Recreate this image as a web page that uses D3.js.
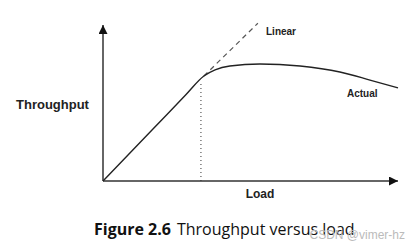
<!DOCTYPE html>
<html>
<head>
<meta charset="utf-8">
<script src="https://cdn.jsdelivr.net/npm/d3@7"></script>
<style>
  body { margin: 0; background: #fff; }
  text { font-family: "Liberation Sans", Arial, sans-serif; }
</style>
</head>
<body>
<div id="chart"></div>
<script>
// chart values (load, throughput) in arbitrary units 0..100
var actualLoad       = [0, 17.1, 28, 34.2, 38, 43, 53.2, 66.8, 80.3, 90.5, 100];
var actualThroughput = [0, 32.6, 53.4, 65.2, 69, 71.4, 72.7, 71.4, 67.7, 62.7, 57.8];
var linearLoad       = [34.2, 52.5];
var linearThroughput = [65.2, 98];
var kneeLoad = 33.2;
var kneeThroughput = 62;

var w = 419, h = 252;
var svg = d3.select("#chart").append("svg")
	.attr("width", w)
	.attr("height", h);

var x = d3.scaleLinear().domain([0, 100]).range([103, 398]);
var y = d3.scaleLinear().domain([0, 100]).range([181, 20]);

// arrow marker
var defs = svg.append("defs");
defs.append("marker")
	.attr("id", "arrow")
	.attr("viewBox", "0 0 10 10")
	.attr("refX", 10).attr("refY", 5)
	.attr("markerWidth", 9).attr("markerHeight", 9)
	.attr("markerUnits", "userSpaceOnUse")
	.attr("orient", "auto")
.append("path")
	.attr("d", "M0,0L10,5L0,10Z")
	.attr("fill", "#111");

// axes
svg.append("line")
	.attr("x1", x(0)).attr("y1", y(0))
	.attr("x2", x(0)).attr("y2", 25)
	.attr("stroke", "#333").attr("stroke-width", 1.5)
	.attr("marker-end", "url(#arrow)");

svg.append("line")
	.attr("x1", x(0)).attr("y1", y(0))
	.attr("x2", 398).attr("y2", y(0))
	.attr("stroke", "#333").attr("stroke-width", 1.5)
	.attr("marker-end", "url(#arrow)");

var line = d3.line()
	.x(function(d) { return x(d[0]); })
	.y(function(d) { return y(d[1]); });

// linear (dashed)
svg.append("path")
	.datum(d3.zip(linearLoad, linearThroughput))
	.attr("fill", "none")
	.attr("stroke", "#555")
	.attr("stroke-width", 1.2)
	.attr("stroke-dasharray", "5,4")
	.attr("d", line);

// actual curve
svg.append("path")
	.datum(d3.zip(actualLoad, actualThroughput))
	.attr("fill", "none")
	.attr("stroke", "#222")
	.attr("stroke-width", 1.4)
	.attr("d", line.curve(d3.curveMonotoneX));

// dotted knee marker
svg.append("line")
	.attr("x1", x(kneeLoad)).attr("y1", y(0))
	.attr("x2", x(kneeLoad)).attr("y2", y(kneeThroughput))
	.attr("stroke", "#333")
	.attr("stroke-width", 1)
	.attr("stroke-dasharray", "1,3");

// labels
svg.append("text")
	.attr("x", 16).attr("y", 109)
	.attr("font-size", "13px").attr("font-weight", "bold")
	.attr("fill", "#222")
	.text("Throughput");

svg.append("text")
	.attr("x", 260).attr("y", 198)
	.attr("text-anchor", "middle")
	.attr("font-size", "12px").attr("font-weight", "bold")
	.attr("fill", "#222")
	.text("Load");

svg.append("text")
	.attr("x", 266).attr("y", 35)
	.attr("font-size", "10px").attr("font-weight", "bold")
	.attr("fill", "#222")
	.text("Linear");

svg.append("text")
	.attr("x", 347).attr("y", 97)
	.attr("font-size", "10px").attr("font-weight", "bold")
	.attr("fill", "#222")
	.text("Actual");

// caption
var cap = svg.append("text")
	.attr("x", 94).attr("y", 235)
	.attr("font-size", "16px")
	.attr("fill", "#111")
	.style("font-family", "'Open Sans', 'Noto Sans', sans-serif");
cap.append("tspan").attr("font-weight", "bold").text("Figure 2.6");
cap.append("tspan").attr("dx", 6).text("Throughput versus load");

// watermark
svg.append("text")
	.attr("x", 405).attr("y", 239)
	.attr("text-anchor", "end")
	.attr("font-size", "12px")
	.attr("fill", "#bbb")
	.text("CSDN @vimer-hz");
</script>
</body>
</html>
